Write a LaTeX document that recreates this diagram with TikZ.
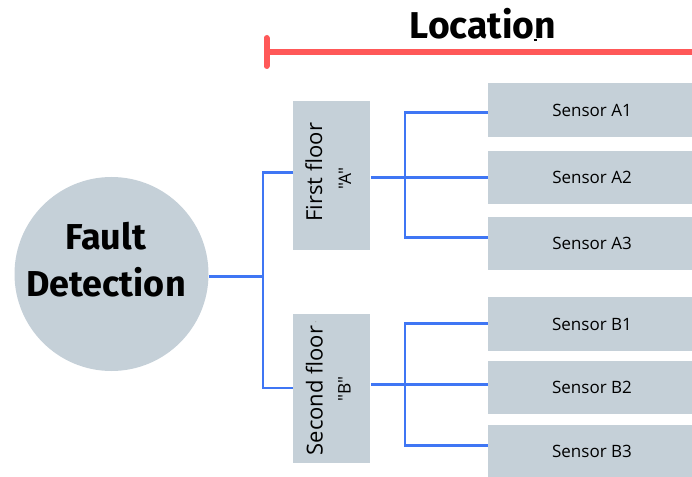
\documentclass[tikz,border=0pt]{standalone}
\usepackage{fontspec}
\setmainfont{Open Sans}[Ligatures=TeXOff]
\newfontfamily\titlefont{Fira Sans}
\definecolor{boxfill}{HTML}{C5D0D8}
\definecolor{lineblue}{HTML}{3F76F4}
\definecolor{redline}{HTML}{FF5858}
\begin{document}
\begin{tikzpicture}[x=0.75pt,y=-0.75pt,
  conn/.style={draw=lineblue, line width=2pt, line join=miter},
  sensorbox/.style={rectangle, fill=boxfill, inner sep=0pt, minimum width=156pt, minimum height=40.1pt, font=\fontsize{12.75}{15}\selectfont},
  floorbox/.style={rectangle, fill=boxfill, inner sep=0pt, minimum width=58.1pt, minimum height=111.4pt},
  floortext/.style={rotate=90, anchor=base, inner sep=0pt, font=\fontsize{16.5}{20}\selectfont},
  floorletter/.style={rotate=90, anchor=base, inner sep=0pt, font=\fontsize{13}{16}\selectfont},
  bigtext/.style={anchor=base, inner sep=0pt, font=\titlefont\bfseries\fontsize{27}{32}\selectfont}]
\useasboundingbox (0,0) rectangle (692,477);
\clip (0,0) rectangle (692,477);

% title and red bar
\node[bigtext, font=\titlefont\bfseries\fontsize{28}{34}\selectfont] (title) at (483,38.3) {Location};
\draw[black, line width=0.9pt] (533.5,40) -- (537,40);
\coordinate (rs) at (266.5,51.7);
\coordinate (re) at (700,51.7);
\coordinate (rt) at (266.5,38);
\coordinate (rb) at (266.5,66);
\draw[redline, line width=4.5pt] (rs) -- (re);
\draw[redline, line width=4.5pt, line cap=round] (rt) -- (rb);

% root
\node[circle, fill=boxfill, minimum size=145.5pt, inner sep=0pt] (fd) at (111.5,274) {};
\node[bigtext] (fdl1) at (106,250) {Fault};
\node[bigtext] (fdl2) at (106,296.7) {Detection};

% floors
\node[floorbox] (fa) at (331.75,175.75) {};
\node[floorbox] (fb) at (331.75,388.25) {};
\node[floortext] (fat) at (322,172.2) {First floor};
\node[floorletter] (fal) at (351.2,178.7) {"A"};
\node[floortext] (fbt) at (322.5,390.5) {Second floor};
\node[floorletter] (fbl) at (350.7,388.8) {"B"};
\fill[gray!70] (315.7,321.7) circle (0.6);

% sensors
\node[sensorbox] (a1) at (592,110) {Sensor A1};
\node[sensorbox] (a2) at (592,177.5) {Sensor A2};
\node[sensorbox] (a3) at (592,243.7) {Sensor A3};
\node[sensorbox] (b1) at (592,324.2) {Sensor B1};
\node[sensorbox] (b2) at (592,387.5) {Sensor B2};
\node[sensorbox] (b3) at (592,451.5) {Sensor B3};

% trunk from root
\coordinate (tm) at (263,276.7);
\coordinate (ta) at (263,172.7);
\coordinate (tb) at (263,388);
\draw[conn] (fd.east |- tm) -- (tm);
\draw[conn] (fa.west |- ta) -- (ta) -- (tb) -- (fb.west |- tb);

% branch A
\coordinate (ba) at (405,177.7);
\coordinate (ja1) at (405,112.7);
\coordinate (ja3) at (405,237.7);
\draw[conn] (fa.east |- ba) -- (a2.west |- ba);
\draw[conn] (a1.west |- ja1) -- (ja1) -- (ja3) -- (a3.west |- ja3);

% branch B
\coordinate (bb) at (405,384.3);
\coordinate (jb1) at (405,323.3);
\coordinate (jb3) at (405,445.3);
\draw[conn] (fb.east |- bb) -- (b2.west |- bb);
\draw[conn] (b1.west |- jb1) -- (jb1) -- (jb3) -- (b3.west |- jb3);
\end{tikzpicture}
\end{document}
